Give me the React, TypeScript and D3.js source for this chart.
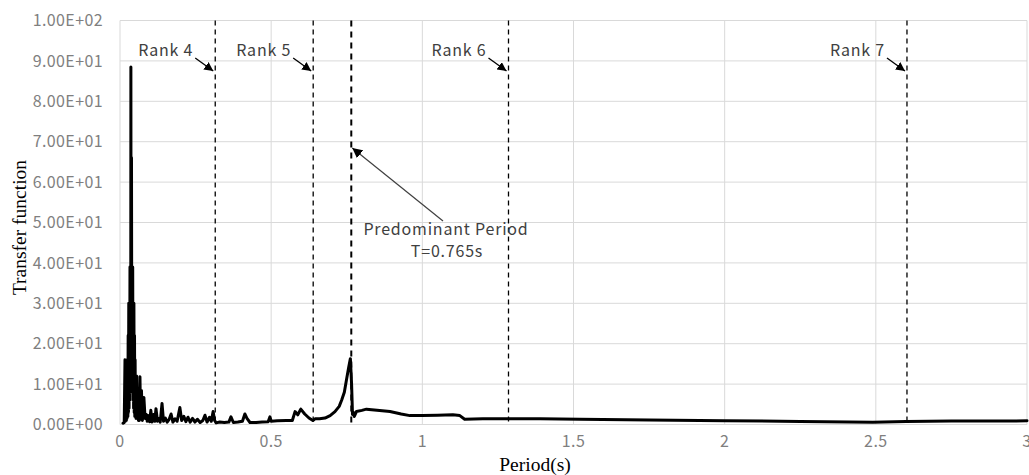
import React from "react";
import * as d3 from "d3";

const periods: number[] = [
  0.010, 0.014, 0.0165, 0.0180, 0.0195, 0.021, 0.022, 0.023, 0.0245, 0.026, 0.027, 0.028, 0.029, 0.030, 0.031, 0.032, 0.033, 0.034, 0.035, 0.0355,
  0.036, 0.0365, 0.037, 0.0375, 0.038, 0.039, 0.040, 0.041, 0.042, 0.043, 0.044, 0.045, 0.046, 0.047, 0.048, 0.049, 0.050, 0.051, 0.052, 0.053,
  0.055, 0.057, 0.059, 0.061, 0.063, 0.064, 0.066, 0.068, 0.071, 0.074, 0.079, 0.083, 0.087, 0.090, 0.094, 0.098, 0.102, 0.106,
  0.111, 0.115, 0.119, 0.124, 0.128, 0.133, 0.139, 0.144, 0.150, 0.156, 0.162, 0.169, 0.175, 0.182, 0.189, 0.198, 0.204, 0.211, 0.218, 0.225,
  0.232, 0.240, 0.248, 0.256, 0.265, 0.274, 0.281, 0.288, 0.296, 0.302, 0.308, 0.313, 0.318, 0.330, 0.345, 0.360, 0.367, 0.375, 0.390, 0.405,
  0.413, 0.420, 0.430, 0.450, 0.470, 0.490, 0.496, 0.500, 0.520, 0.550, 0.570, 0.579, 0.588, 0.598, 0.611, 0.625, 0.638, 0.645, 0.660, 0.678,
  0.695, 0.711, 0.725, 0.733, 0.742, 0.749, 0.756, 0.762, 0.766, 0.769, 0.772, 0.775, 0.782, 0.800, 0.815, 0.850, 0.893, 0.930, 0.959, 1.000,
  1.050, 1.101, 1.124, 1.140, 1.200, 1.300, 1.390, 1.520, 1.750, 2.000, 2.250, 2.490, 2.600, 2.750, 3.000,
];

const transfer: number[] = [
  0.3, 0.5, 16, 0.8, 9, 1, 12, 1.5, 16, 2, 22, 3, 30, 4, 30, 6, 39, 8, 39, 12,
  88.5, 25, 66, 18, 66, 14, 39, 9, 39, 6, 30, 4, 30, 3, 22, 2, 16, 2, 12, 1.5,
  12, 1.5, 8, 1, 8, 1, 11.8, 1.5, 8.4, 1, 6.7, 1.5, 2.5, 0.8, 2.2, 0.7, 3.5, 0.6,
  2.5, 0.8, 3.9, 0.8, 1.5, 0.6, 5.2, 0.8, 1.6, 0.6, 1.2, 2.6, 0.6, 1.4, 0.8, 4.2, 1.0, 2.0, 0.7, 1.8,
  0.6, 1.5, 0.6, 1.3, 0.5, 1.0, 2.3, 0.6, 1.8, 0.8, 3.2, 1.0, 0.4, 0.6, 0.5, 0.6, 1.9, 0.5, 0.6, 0.8,
  2.6, 1.5, 0.5, 0.5, 0.6, 0.7, 1.9, 0.8, 0.9, 1.0, 1.0, 3.2, 2.4, 3.8, 2.6, 1.6, 1.0, 1.4, 1.4, 1.6,
  2.2, 3.2, 4.5, 6.0, 8.0, 11, 14, 16.3, 10, 2.5, 3.0, 2.0, 3.2, 3.5, 3.8, 3.5, 3.2, 2.6, 2.2, 2.2,
  2.3, 2.4, 2.2, 1.3, 1.4, 1.4, 1.4, 1.3, 1.1, 0.95, 0.75, 0.55, 0.75, 0.85, 0.9,
];

const xTicks: number[] = [0, 0.5, 1, 1.5, 2, 2.5, 3];
const xTickLabels: string[] = ["0", "0.5", "1", "1.5", "2", "2.5", "3"];
const yTicks: number[] = [0, 10, 20, 30, 40, 50, 60, 70, 80, 90, 100];

const rankNames: string[] = ["Rank 4", "Rank 5", "Rank 6", "Rank 7"];
const rankPeriods: number[] = [0.315, 0.639, 1.285, 2.603];
const predominantPeriod = 0.765;

function fmtExp(v: number): string {
  const s = v.toExponential(2).toUpperCase();
  const m = s.match(/^(.*)E([+-])(\d+)$/);
  if (!m) return s;
  return `${m[1]}E${m[2]}${m[3].padStart(2, "0")}`;
}

export default function App() {
  const W = 1029;
  const H = 475;
  const left = 120;
  const right = 1027;
  const top = 20.5;
  const bottom = 424.5;

  const x = d3.scaleLinear().domain([0, 3]).range([left, right]);
  const y = d3.scaleLinear().domain([0, 100]).range([bottom, top]);

  const pts: [number, number][] = periods.map((p, i) => [p, transfer[i]]);
  const line = d3
    .line<[number, number]>()
    .x((d) => x(d[0]))
    .y((d) => y(d[1]));

  const grid = "#d9d9d9";
  const tickColor = "#7f7f7f";
  const annColor = "#404040";
  const sans = "'Noto Sans CJK JP', 'Noto Sans', sans-serif";
  const serif = "'Liberation Serif', 'Times New Roman', serif";

  return (
    <svg
      width={W}
      height={H}
      style={{ position: "absolute", left: 0, top: 0, background: "#fff" }}
    >
      <defs>
        <marker id="ah" viewBox="0 0 10 10" refX="10" refY="5" markerWidth="9" markerHeight="9" markerUnits="userSpaceOnUse" orient="auto">
          <path d="M0,0 L10,5 L0,10 z" fill="#000" />
        </marker>
        <marker id="ah2" viewBox="0 0 10 10" refX="10" refY="5" markerWidth="10" markerHeight="10" markerUnits="userSpaceOnUse" orient="auto">
          <path d="M0,0 L10,5 L0,10 z" fill="#000" />
        </marker>
      </defs>
      <rect x={0} y={0} width={W} height={H} fill="#fff" />

      {yTicks.map((t) => (
        <line key={"gy" + t} x1={left} x2={right} y1={y(t)} y2={y(t)} stroke={grid} strokeWidth={1} />
      ))}
      {xTicks.map((t) => (
        <line key={"gx" + t} x1={x(t)} x2={x(t)} y1={top} y2={bottom} stroke={grid} strokeWidth={1} />
      ))}

      {yTicks.map((t) => (
        <text key={"ty" + t} x={103} y={y(t)} dy="0.35em" textAnchor="end" fontFamily={sans} fontSize={16} letterSpacing={0.4} fill={tickColor}>
          {fmtExp(t)}
        </text>
      ))}
      {xTicks.map((t, i) => (
        <text key={"tx" + t} x={x(t)} y={441} dy="0.35em" textAnchor="middle" fontFamily={sans} fontSize={16} letterSpacing={0.4} fill={tickColor}>
          {xTickLabels[i]}
        </text>
      ))}

      <text
        transform={`translate(19,${(top + bottom) / 2 + 5}) rotate(-90)`}
        textAnchor="middle"
        fontFamily={serif}
        fontSize={19.5}
        fill="#000"
        dy="0.35em"
      >
        Transfer function
      </text>
      <text x={535} y={464} textAnchor="middle" dy="0.35em" fontFamily={serif} fontSize={19.5} fill="#000">
        Period(s)
      </text>

      <path d={line(pts) || ""} fill="none" stroke="#000" strokeWidth={3} strokeLinejoin="round" strokeLinecap="round" />

      {rankPeriods.map((p, i) => (
        <g key={"rank" + i}>
          <line x1={x(p)} x2={x(p)} y1={top} y2={bottom} stroke="#000" strokeWidth={1.3} strokeDasharray="5,4" />
          <text x={x(p) - 22} y={50} textAnchor="end" dy="0.35em" fontFamily={sans} fontSize={16} letterSpacing={0.8} fill={annColor}>
            {rankNames[i]}
          </text>
          <line x1={x(p) - 20} y1={58} x2={x(p) - 2} y2={71} stroke="#000" strokeWidth={1.3} markerEnd="url(#ah)" />
        </g>
      ))}

      <line
        x1={x(predominantPeriod)}
        x2={x(predominantPeriod)}
        y1={top}
        y2={bottom}
        stroke="#000"
        strokeWidth={2}
        strokeDasharray="6,5"
      />
      <line x1={443} y1={221} x2={x(predominantPeriod) + 1} y2={148} stroke={annColor} strokeWidth={1.2} markerEnd="url(#ah2)" />
      <text x={446} y={229} textAnchor="middle" dy="0.35em" fontFamily={sans} fontSize={16} letterSpacing={0.8} fill={annColor}>
        Predominant Period
      </text>
      <text x={447} y={251} textAnchor="middle" dy="0.35em" fontFamily={sans} fontSize={16} letterSpacing={0.8} fill={annColor}>
        T=0.765s
      </text>
    </svg>
  );
}
